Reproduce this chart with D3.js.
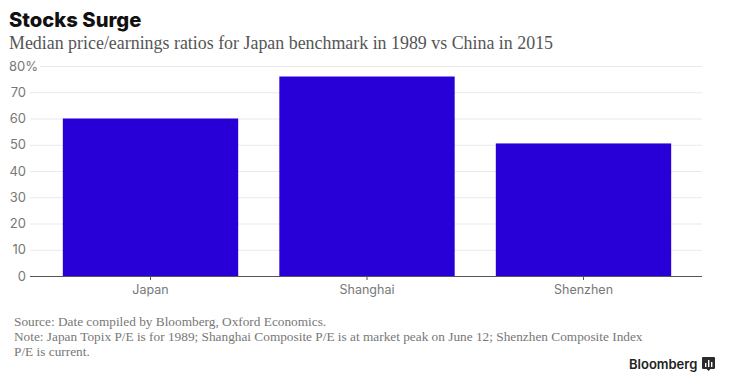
<!DOCTYPE html>
<html>
<head>
<meta charset="utf-8">
<script src="https://cdn.jsdelivr.net/npm/d3@7"></script>
<style>
  html, body { margin: 0; padding: 0; background: #fff; }
  svg { display: block; }
  .tick text { font-family: Inter, "Liberation Sans", sans-serif; }
</style>
</head>
<body>
<div id="chart"></div>
<script>
const markets = ["Japan", "Shanghai", "Shenzhen"];
const peRatios = [60, 76, 50.5];
const yTicks = [0, 10, 20, 30, 40, 50, 60, 70, 80];
const title = "Stocks Surge";
const subtitle = "Median price/earnings ratios for Japan benchmark in 1989 vs China in 2015";
const footnotes = [
    "Source: Date compiled by Bloomberg, Oxford Economics.",
    "Note: Japan Topix P/E is for 1989; Shanghai Composite P/E is at market peak on June 12; Shenzhen Composite Index",
    "P/E is current."
];

const width = 731;
const height = 379;
const serif = "'Liberation Serif', serif";
const sans = "Inter, 'Liberation Sans', sans-serif";

const xScale = d3.scaleBand(markets, [31, 703]).paddingInner(0.19).paddingOuter(0.147);
const yScale = d3.scaleLinear([0, 80], [276, 66]);

const svg = d3.select("#chart")
    .append("svg")
    .attr("width", width)
    .attr("height", height);

svg.append("text")
    .attr("x", 9)
    .attr("y", 27)
    .style("font-family", sans)
    .style("font-size", "20.2px")
    .style("font-weight", 800)
    .style("fill", "#111")
    .text(title);

svg.append("text")
    .attr("x", 9)
    .attr("y", 49)
    .style("font-family", serif)
    .style("font-size", "17.9px")
    .style("fill", "#555")
    .text(subtitle);

// gridlines + y labels
const yAxis = svg.append("g")
    .attr("transform", "translate(30,0)")
    .call(d3.axisLeft(yScale)
        .tickValues(yTicks)
        .tickSize(-672)
        .tickFormat(d => d === 80 ? "80%" : d));

yAxis.select(".domain").remove();
yAxis.selectAll(".tick line").attr("stroke", "#e9e9e9");
// top line starts after the wider 80% label
yAxis.selectAll(".tick line").filter(d => d === 80).attr("x1", 10);
yAxis.selectAll(".tick text")
    .attr("x", -4)
    .style("font-size", "13px")
    .style("fill", "#777");
yAxis.selectAll(".tick text").filter(d => d === 80)
    .attr("x", -21)
    .attr("text-anchor", "start");

svg.selectAll("rect.bar")
    .data(peRatios)
    .enter()
    .append("rect")
    .attr("class", "bar")
    .attr("x", (d, i) => xScale(markets[i]))
    .attr("y", d => yScale(d))
    .attr("width", xScale.bandwidth())
    .attr("height", d => yScale(0) - yScale(d))
    .style("fill", "#2800d7");

const xAxis = svg.append("g")
    .attr("transform", "translate(0,276)")
    .call(d3.axisBottom(xScale).tickSize(4).tickPadding(5).tickSizeOuter(0));

xAxis.select(".domain").attr("stroke", "#555").attr("d", "M30,0.5H702");
xAxis.selectAll(".tick line").attr("stroke", "#555");
xAxis.selectAll(".tick text")
    .style("font-size", "12.5px")
    .style("fill", "#777");

svg.append("g")
    .selectAll("text")
    .data(footnotes)
    .enter()
    .append("text")
    .attr("x", 14)
    .attr("y", (d, i) => 326 + i * 15)
    .style("font-family", serif)
    .style("font-size", "13.3px")
    .style("fill", "#777")
    .text(d => d);

// logo wordmark and small mark
svg.append("text")
    .attr("x", 629)
    .attr("y", 369)
    .style("font-family", sans)
    .style("font-size", "13px")
    .style("font-weight", 600)
    .style("fill", "#222")
    .text("Bloomberg");

const logo = svg.append("g").attr("transform", "translate(702,357)");
logo.append("path")
    .attr("d", "M1,0H12a1,1 0 0 1 1,1V11a1,1 0 0 1 -1,1H8.5L6.5,14L4.500,12H1a1,1 0 0 1 -1,-1V1a1,1 0 0 1 1,-1Z")
    .style("fill", "#2b2b2b");
logo.selectAll("rect")
    .data([[3, 6, 4], [6, 3, 7], [9, 5, 5]])
    .enter()
    .append("rect")
    .attr("x", d => d[0])
    .attr("y", d => d[1])
    .attr("width", 1.4)
    .attr("height", d => d[2])
    .style("fill", "#fff");
</script>
</body>
</html>
